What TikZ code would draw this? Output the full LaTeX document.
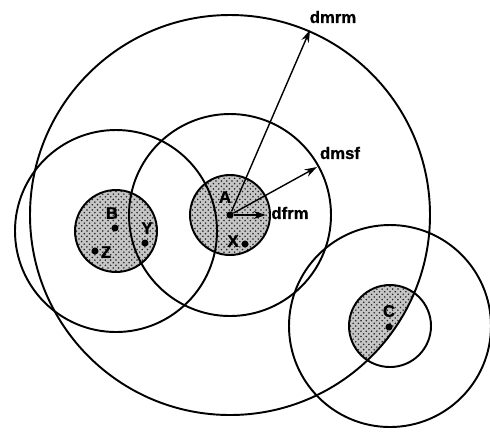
\documentclass[tikz,border=0pt]{standalone}
\usepackage{fontspec}
\setmainfont{Liberation Sans}[FakeBold=1.2]
\usetikzlibrary{arrows.meta,patterns}
\begin{document}
\begin{tikzpicture}[x=0.02cm,y=-0.02cm,
  every node/.style={font=\fontsize{9.5}{10}\selectfont\bfseries, inner sep=1pt},
  ring/.style={draw, line width=1.1pt},
  core/.style={fill=gray!45, postaction={pattern=crosshatch dots, pattern color=black!85}},
  pt/.style={circle, fill, inner sep=0pt, minimum size=4pt},
  dist/.style={-{Stealth[length=7pt,width=4.5pt]}, line width=0.8pt}]
\useasboundingbox (0,0) rectangle (490,434);
% centres of the three zones
\coordinate (cA) at (230,215);
\coordinate (cB) at (116,231);
\coordinate (cC) at (390,326);
% shaded cores
\fill[core] (cA) circle[radius=40];
\fill[core] (cB) circle[radius=41];
\begin{scope}
  \clip (cA) circle[radius=200];
  \fill[core] (cC) circle[radius=41];
\end{scope}
% rings
\draw[ring] (cA) circle[radius=40] (cA) circle[radius=101] (cA) circle[radius=200];
\draw[ring] (cB) circle[radius=41] (cB) circle[radius=101];
\draw[ring] (cC) circle[radius=41] (cC) circle[radius=101];
% points
\node[pt] (A) at (cA) {};
\node[pt] (X) at (245,244) {};
\node[pt] (B) at (115,228) {};
\node[pt] (Y) at (145,243) {};
\node[pt] (Z) at (95,251) {};
\node[pt] (C) at (389,327) {};
\node (lblA) at (225,197) {A};
\node (lblX) at (233,241) {X};
\node (lblB) at (112,213) {B};
\node (lblY) at (147,228) {Y};
\node (lblZ) at (106,252) {Z};
\node (lblC) at (389,311) {C};
% distances
\coordinate (tmrm) at (310,30);
\coordinate (tmsf) at (317,167);
\coordinate (tfrm) at (266,215);
\draw[dist] (A) -- (tmrm);
\draw[dist] (A) -- (tmsf);
\draw[dist] (A) -- (tfrm);
\node (dmrm) at (333,17) {dmrm};
\node (dmsf) at (340,153) {dmsf};
\node (dfrm) at (290,213) {dfrm};
\end{tikzpicture}
\end{document}
